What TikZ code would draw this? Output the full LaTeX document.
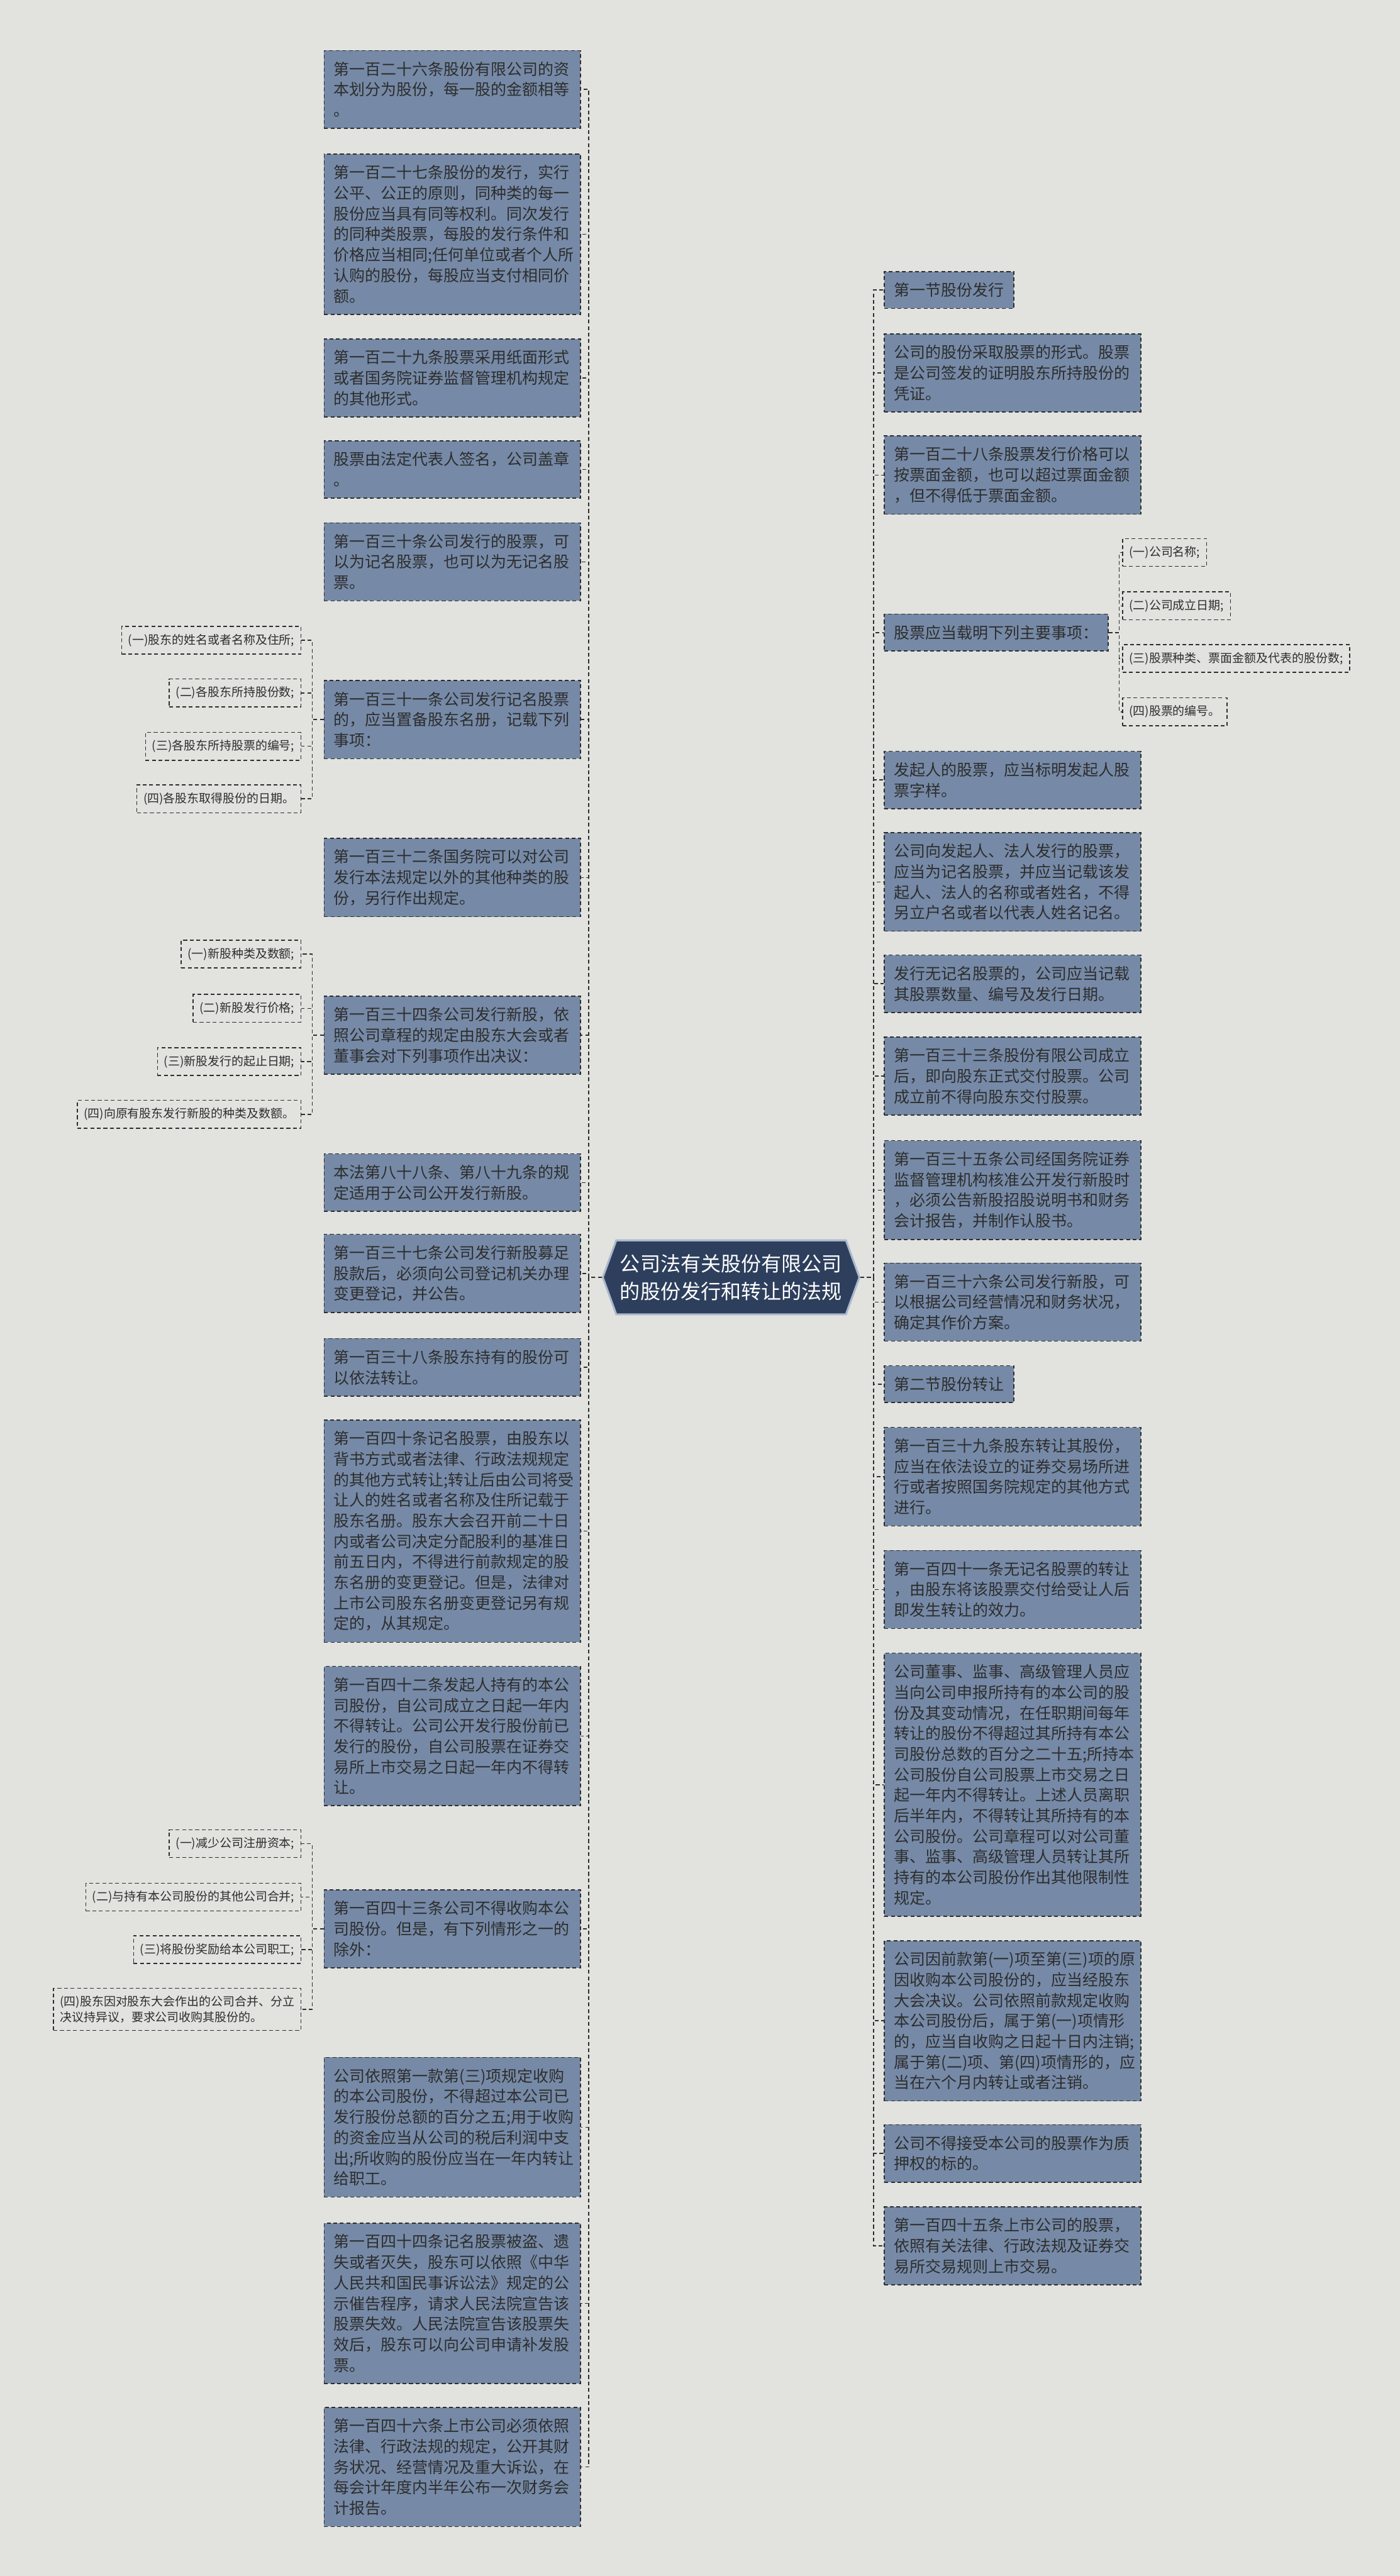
\documentclass[tikz,border=0pt]{standalone}
\usepackage{fontspec}
\newfontfamily\cjk{Noto Sans CJK SC}
\usetikzlibrary{positioning,shapes.symbols}
\definecolor{bgcol}{RGB}{226,227,223}
\definecolor{boxcol}{RGB}{118,138,167}
\definecolor{hubcol}{RGB}{45,63,92}
\definecolor{hubline}{RGB}{170,184,204}
\definecolor{inkcol}{RGB}{45,45,45}

\begin{document}
\begin{tikzpicture}[x=0.03005cm, y=-0.03005cm,
    leaf/.style={draw=inkcol, dash pattern=on 2pt off 1.4pt, line width=0.5pt, fill=boxcol, text=inkcol, font=\cjk\fontsize{8.17}{10.7}\selectfont, align=left, inner xsep=5.1pt, inner ysep=5.8pt, anchor=north west},
    wide/.style={leaf, text width=123.2pt},
    sub/.style={draw=inkcol, dash pattern=on 2pt off 1.4pt, line width=0.5pt, text=inkcol, font=\cjk\fontsize{6.2}{8}\selectfont, align=left, inner xsep=3.4pt, inner ysep=4pt},
    link/.style={draw=inkcol, dash pattern=on 2pt off 1.4pt, line width=0.5pt},
    hub/.style={signal, signal to=west and east, signal pointer angle=140, draw=hubline, line width=1pt, fill=hubcol, text=white, font=\cjk\fontsize{10.5}{14.5}\selectfont, align=center, minimum width=131.7pt, minimum height=38.5pt, inner xsep=2pt}]
    % page
    \fill[bgcol] (0,0) rectangle (852,1568);
    \useasboundingbox (0,0) rectangle (852,1568);
    % centre
    \node[hub] (hub) at (445,777.5) {公司法有关股份有限公司\\的股份发行和转让的法规};
    % left column
    \node[wide] (L1) at (197,30.5) {第一百二十六条股份有限公司的资\\本划分为股份，每一股的金额相等\\。};
    \node[wide] (L2) at (197,93.5) {第一百二十七条股份的发行，实行\\公平、公正的原则，同种类的每一\\股份应当具有同等权利。同次发行\\的同种类股票，每股的发行条件和\\价格应当相同;任何单位或者个人所\\认购的股份，每股应当支付相同价\\额。};
    \node[wide] (L3) at (197,206) {第一百二十九条股票采用纸面形式\\或者国务院证券监督管理机构规定\\的其他形式。};
    \node[wide] (L4) at (197,268) {股票由法定代表人签名，公司盖章\\。};
    \node[wide] (L5) at (197,318) {第一百三十条公司发行的股票，可\\以为记名股票，也可以为无记名股\\票。};
    \node[wide] (L6) at (197,414) {第一百三十一条公司发行记名股票\\的，应当置备股东名册，记载下列\\事项：};
    \node[wide] (L7) at (197,510) {第一百三十二条国务院可以对公司\\发行本法规定以外的其他种类的股\\份，另行作出规定。};
    \node[wide] (L8) at (197,606) {第一百三十四条公司发行新股，依\\照公司章程的规定由股东大会或者\\董事会对下列事项作出决议：};
    \node[wide] (L9) at (197,702) {本法第八十八条、第八十九条的规\\定适用于公司公开发行新股。};
    \node[wide] (L10) at (197,751) {第一百三十七条公司发行新股募足\\股款后，必须向公司登记机关办理\\变更登记，并公告。};
    \node[wide] (L11) at (197,814.5) {第一百三十八条股东持有的股份可\\以依法转让。};
    \node[wide] (L12) at (197,864) {第一百四十条记名股票，由股东以\\背书方式或者法律、行政法规规定\\的其他方式转让;转让后由公司将受\\让人的姓名或者名称及住所记载于\\股东名册。股东大会召开前二十日\\内或者公司决定分配股利的基准日\\前五日内，不得进行前款规定的股\\东名册的变更登记。但是，法律对\\上市公司股东名册变更登记另有规\\定的，从其规定。};
    \node[wide] (L13) at (197,1014) {第一百四十二条发起人持有的本公\\司股份，自公司成立之日起一年内\\不得转让。公司公开发行股份前已\\发行的股份，自公司股票在证券交\\易所上市交易之日起一年内不得转\\让。};
    \node[wide] (L14) at (197,1150) {第一百四十三条公司不得收购本公\\司股份。但是，有下列情形之一的\\除外：};
    \node[wide] (L15) at (197,1252) {公司依照第一款第(三)项规定收购\\的本公司股份，不得超过本公司已\\发行股份总额的百分之五;用于收购\\的资金应当从公司的税后利润中支\\出;所收购的股份应当在一年内转让\\给职工。};
    \node[wide] (L16) at (197,1353) {第一百四十四条记名股票被盗、遗\\失或者灭失，股东可以依照《中华\\人民共和国民事诉讼法》规定的公\\示催告程序，请求人民法院宣告该\\股票失效。人民法院宣告该股票失\\效后，股东可以向公司申请补发股\\票。};
    \node[wide] (L17) at (197,1465) {第一百四十六条上市公司必须依照\\法律、行政法规的规定，公开其财\\务状况、经营情况及重大诉讼，在\\每会计年度内半年公布一次财务会\\计报告。};
    % right column
    \node[leaf] (R1) at (538,165) {第一节股份发行};
    \node[wide] (R2) at (538,203) {公司的股份采取股票的形式。股票\\是公司签发的证明股东所持股份的\\凭证。};
    \node[wide] (R3) at (538,265) {第一百二十八条股票发行价格可以\\按票面金额，也可以超过票面金额\\，但不得低于票面金额。};
    \node[leaf] (R4) at (538,373.5) {股票应当载明下列主要事项：};
    \node[wide] (R5) at (538,457) {发起人的股票，应当标明发起人股\\票字样。};
    \node[wide] (R6) at (538,506.5) {公司向发起人、法人发行的股票，\\应当为记名股票，并应当记载该发\\起人、法人的名称或者姓名，不得\\另立户名或者以代表人姓名记名。};
    \node[wide] (R7) at (538,581) {发行无记名股票的，公司应当记载\\其股票数量、编号及发行日期。};
    \node[wide] (R8) at (538,631) {第一百三十三条股份有限公司成立\\后，即向股东正式交付股票。公司\\成立前不得向股东交付股票。};
    \node[wide] (R9) at (538,694) {第一百三十五条公司经国务院证券\\监督管理机构核准公开发行新股时\\，必须公告新股招股说明书和财务\\会计报告，并制作认股书。};
    \node[wide] (R10) at (538,768.5) {第一百三十六条公司发行新股，可\\以根据公司经营情况和财务状况，\\确定其作价方案。};
    \node[leaf] (R11) at (538,831) {第二节股份转让};
    \node[wide] (R12) at (538,868.5) {第一百三十九条股东转让其股份，\\应当在依法设立的证券交易场所进\\行或者按照国务院规定的其他方式\\进行。};
    \node[wide] (R13) at (538,943.5) {第一百四十一条无记名股票的转让\\，由股东将该股票交付给受让人后\\即发生转让的效力。};
    \node[wide] (R14) at (538,1006) {公司董事、监事、高级管理人员应\\当向公司申报所持有的本公司的股\\份及其变动情况，在任职期间每年\\转让的股份不得超过其所持有本公\\司股份总数的百分之二十五;所持本\\公司股份自公司股票上市交易之日\\起一年内不得转让。上述人员离职\\后半年内，不得转让其所持有的本\\公司股份。公司章程可以对公司董\\事、监事、高级管理人员转让其所\\持有的本公司股份作出其他限制性\\规定。};
    \node[wide] (R15) at (538,1181) {公司因前款第(一)项至第(三)项的原\\因收购本公司股份的，应当经股东\\大会决议。公司依照前款规定收购\\本公司股份后，属于第(一)项情形\\的，应当自收购之日起十日内注销;\\属于第(二)项、第(四)项情形的，应\\当在六个月内转让或者注销。};
    \node[wide] (R16) at (538,1293) {公司不得接受本公司的股票作为质\\押权的标的。};
    \node[wide] (R17) at (538,1343) {第一百四十五条上市公司的股票，\\依照有关法律、行政法规及证券交\\易所交易规则上市交易。};
    % sub items
    \node[sub, anchor=north east] (C1) at (183.5,381) {(一)股东的姓名或者名称及住所;};
    \node[sub, anchor=north east] (C2) at (183.5,413) {(二)各股东所持股份数;};
    \node[sub, anchor=north east] (C3) at (183.5,445.5) {(三)各股东所持股票的编号;};
    \node[sub, anchor=north east] (C4) at (183.5,477.5) {(四)各股东取得股份的日期。};
    \node[sub, anchor=north east] (D1) at (183.5,572) {(一)新股种类及数额;};
    \node[sub, anchor=north east] (D2) at (183.5,605) {(二)新股发行价格;};
    \node[sub, anchor=north east] (D3) at (183.5,637.5) {(三)新股发行的起止日期;};
    \node[sub, anchor=north east] (D4) at (183.5,669.5) {(四)向原有股东发行新股的种类及数额。};
    \node[sub, anchor=north east] (E1) at (183.5,1113.5) {(一)减少公司注册资本;};
    \node[sub, anchor=north east] (E2) at (183.5,1146) {(二)与持有本公司股份的其他公司合并;};
    \node[sub, anchor=north east] (E3) at (183.5,1178) {(三)将股份奖励给本公司职工;};
    \node[sub, anchor=north east] (E4) at (183.5,1210) {(四)股东因对股东大会作出的公司合并、分立\\决议持异议，要求公司收购其股份的。};
    \node[sub, anchor=north west] (S1) at (683,327.5) {(一)公司名称;};
    \node[sub, anchor=north west] (S2) at (683,360) {(二)公司成立日期;};
    \node[sub, anchor=north west] (S3) at (683,392) {(三)股票种类、票面金额及代表的股份数;};
    \node[sub, anchor=north west] (S4) at (683,424.5) {(四)股票的编号。};
    % links
    \foreach \n in {L1,L2,L3,L4,L5,L6,L7,L8,L9,L10,L11,L12,L13,L14,L15,L16,L17}
        \draw[link] (hub.west) -- ++(-8,0) |- (\n.east);
    \foreach \n in {R1,R2,R3,R4,R5,R6,R7,R8,R9,R10,R11,R12,R13,R14,R15,R16,R17}
        \draw[link] (hub.east) -- ++(8,0) |- (\n.west);
    \foreach \n in {C1,C2,C3,C4}
        \draw[link] (L6.west) -- ++(-7,0) |- (\n.east);
    \foreach \n in {D1,D2,D3,D4}
        \draw[link] (L8.west) -- ++(-7,0) |- (\n.east);
    \foreach \n in {E1,E2,E3,E4}
        \draw[link] (L14.west) -- ++(-7,0) |- (\n.east);
    \foreach \n in {S1,S2,S3,S4}
        \draw[link] (R4.east) -- ++(6.5,0) |- (\n.west);
\end{tikzpicture}
\end{document}
